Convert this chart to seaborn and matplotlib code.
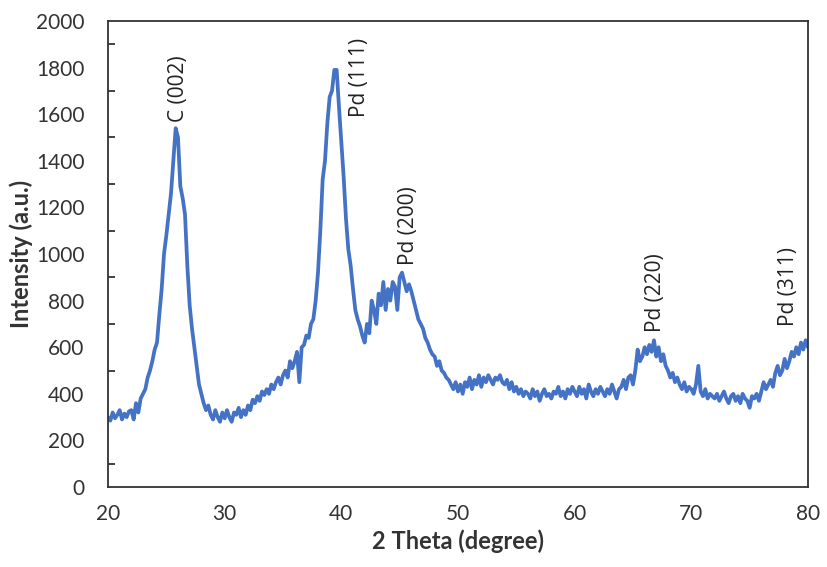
import numpy as np
import pandas as pd
import matplotlib
matplotlib.use("Agg")
import matplotlib.pyplot as plt
from matplotlib.ticker import MultipleLocator
import seaborn as sns

# 2-theta sampling grid (degrees), 0.2 degree step from 20 to 80
two_theta = np.round(np.arange(20.0, 80.0001, 0.2), 1)

# Intensity values (a.u.)
intensity = [
    300, 285, 320, 295, 310, 330, 290, 315, 300, 325,        # 20.0-21.8
    330, 290, 360, 320, 380, 400, 420, 470, 500, 540,        # 22.0-23.8
    590, 620, 740, 850, 1000, 1080, 1170, 1260, 1400, 1540,  # 24.0-25.8
    1500, 1290, 1240, 1170, 950, 780, 680, 600, 520, 440,    # 26.0-27.8
    400, 360, 330, 350, 310, 290, 330, 300, 280, 320,        # 28.0-29.8
    295, 330, 300, 280, 320, 310, 340, 300, 330, 310,        # 30.0-31.8
    350, 330, 375, 360, 390, 370, 410, 395, 420, 400,        # 32.0-33.8
    440, 420, 450, 470, 440, 480, 500, 470, 540, 510,        # 34.0-35.8
    540, 580, 450, 600, 610, 650, 640, 700, 720, 800,        # 36.0-37.8
    920, 1100, 1320, 1400, 1560, 1674, 1700, 1790, 1790, 1630,  # 38.0-39.8
    1480, 1330, 1150, 1020, 950, 850, 760, 720, 690, 650,    # 40.0-41.8
    620, 700, 660, 800, 760, 700, 830, 780, 880, 760,        # 42.0-43.8
    850, 800, 880, 860, 760, 900, 920, 880, 840, 870,        # 44.0-45.8
    840, 800, 760, 720, 700, 680, 640, 620, 590, 570,        # 46.0-47.8
    560, 520, 540, 500, 490, 470, 460, 440, 420, 450,        # 48.0-49.8
    410, 440, 400, 450, 430, 470, 420, 460, 440, 480,        # 50.0-51.8
    430, 470, 450, 480, 460, 440, 470, 460, 480, 450,        # 52.0-53.8
    440, 460, 420, 450, 410, 430, 400, 420, 390, 410,        # 54.0-55.8
    400, 380, 420, 390, 410, 370, 400, 420, 390, 400,        # 56.0-57.8
    380, 410, 400, 430, 390, 410, 380, 420, 400, 430,        # 58.0-59.8
    410, 390, 430, 400, 420, 380, 440, 410, 390, 420,        # 60.0-61.8
    400, 430, 410, 390, 420, 400, 440, 410, 380, 420,        # 62.0-63.8
    430, 460, 420, 470, 480, 440, 500, 590, 540, 560,        # 64.0-65.8
    600, 570, 610, 580, 630, 560, 600, 540, 570, 520,        # 66.0-67.8
    500, 470, 490, 450, 470, 440, 420, 450, 410, 430,        # 68.0-69.8
    420, 400, 440, 520, 410, 390, 420, 380, 400, 390,        # 70.0-71.8
    380, 400, 370, 390, 410, 380, 360, 390, 400, 370,        # 72.0-73.8
    390, 360, 400, 380, 370, 340, 390, 380, 400, 370,        # 74.0-75.8
    410, 450, 420, 440, 460, 430, 490, 520, 480, 500,        # 76.0-77.8
    550, 510, 540, 580, 560, 600, 570, 620, 590, 630,        # 78.0-79.8
    600,                                                     # 80.0
]

# Peak annotations
peak_labels = ["C (002)", "Pd (111)", "Pd (200)", "Pd (220)", "Pd (311)"]
peak_x = [26.0, 41.6, 45.8, 66.9, 78.3]
peak_y = [1565, 1590, 955, 665, 690]

x_ticks = [20, 30, 40, 50, 60, 70, 80]
y_ticks = [0, 200, 400, 600, 800, 1000, 1200, 1400, 1600, 1800, 2000]

df = pd.DataFrame({"two_theta": two_theta, "intensity": intensity})

sns.set_theme(style="white")
plt.rcParams["font.family"] = ["Lato", "DejaVu Sans"]

fig = plt.figure(figsize=(8.27, 5.67), dpi=100)
ax = fig.add_axes([0.1306, 0.141, 0.8464, 0.822])

sns.lineplot(data=df, x="two_theta", y="intensity", ax=ax,
             color="#4472C4", linewidth=2.7)

ax.set_xlim(20, 80)
ax.set_ylim(0, 2000)
ax.set_xticks(x_ticks)
ax.set_yticks(y_ticks)
ax.yaxis.set_minor_locator(MultipleLocator(100))

ax.tick_params(axis="both", which="both", direction="in", colors="#222222",
               labelcolor="#333333", labelsize=15)
ax.tick_params(axis="x", which="major", length=5, width=1.2, pad=12)
ax.tick_params(axis="y", which="major", length=5, width=1.2, pad=17)
ax.tick_params(axis="y", which="minor", length=5, width=1.2, left=True)
ax.tick_params(top=False, right=False)

for s in ax.spines.values():
    s.set_visible(True)
    s.set_color("#333333")
    s.set_linewidth(1.3)

ax.set_xlabel("2 Theta (degree)", fontsize=17, fontweight="bold",
              color="#333333", labelpad=4)
ax.set_ylabel("Intensity (a.u.)", fontsize=17, fontweight="bold",
              color="#333333", labelpad=2)

for lab, px, py in zip(peak_labels, peak_x, peak_y):
    ax.text(px, py, lab, rotation=90, ha="center", va="bottom",
            fontsize=15, color="#222222", family=["Open Sans", "DejaVu Sans"])

fig.savefig("out.png", dpi=100)
